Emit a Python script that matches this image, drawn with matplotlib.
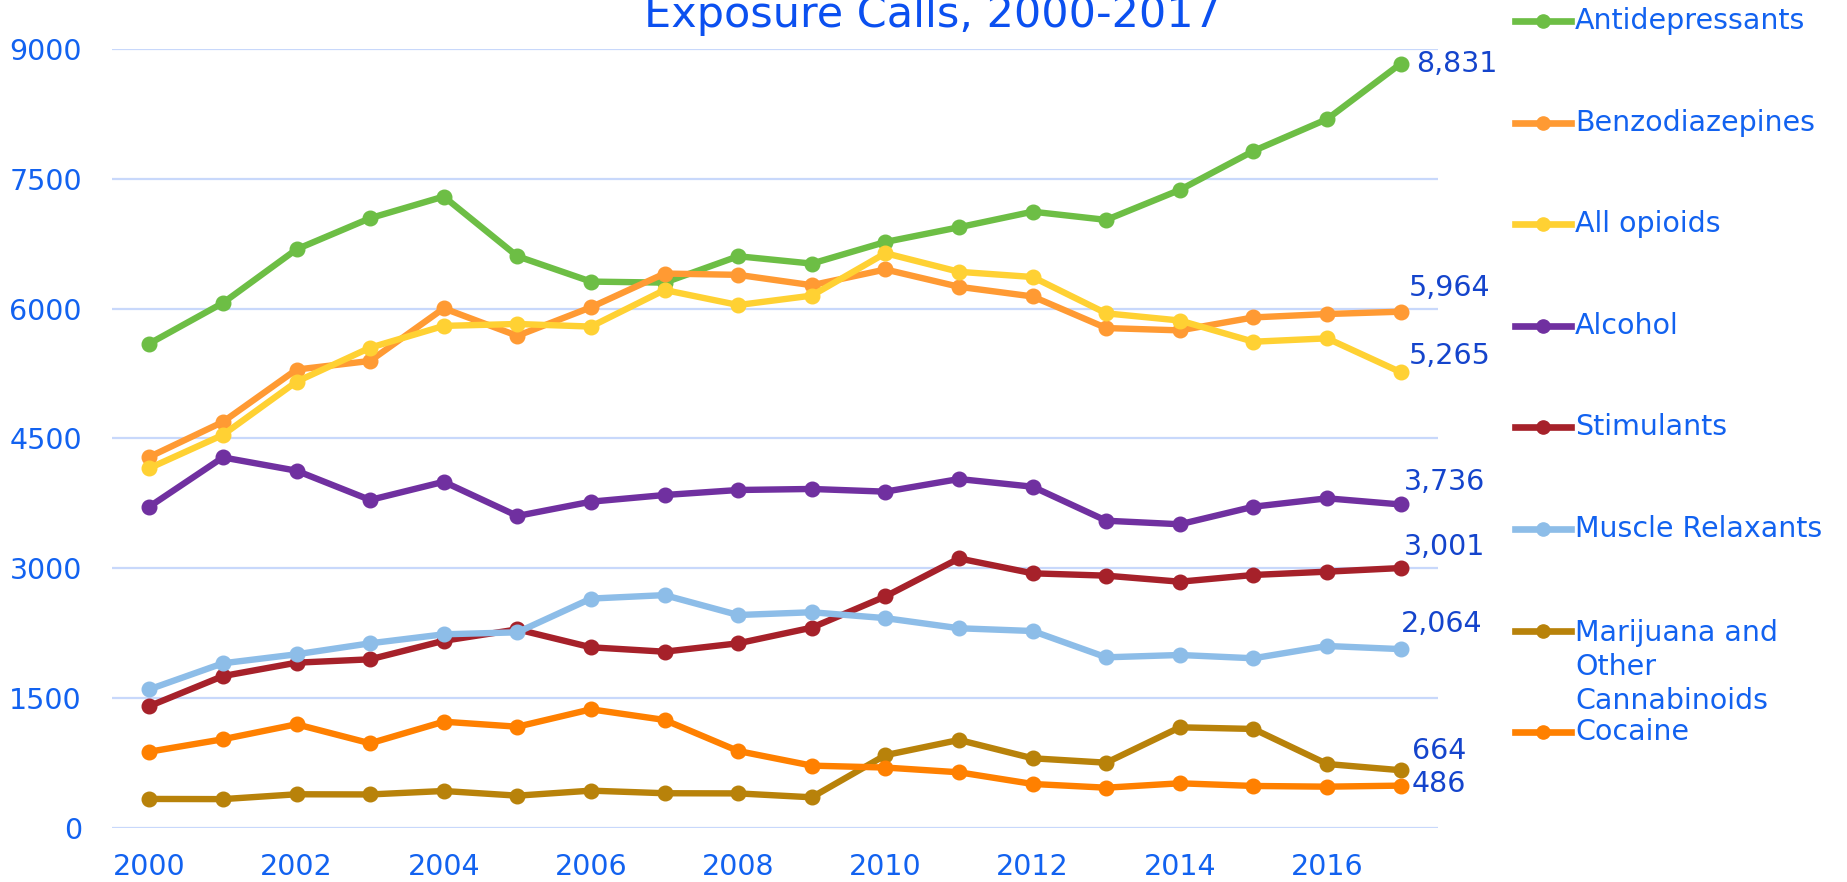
import numpy as np
import matplotlib
matplotlib.use("Agg")
import matplotlib.pyplot as plt
from matplotlib.lines import Line2D

plt.rcParams['font.family'] = ['DejaVu Sans']

years = list(range(2000, 2018))

series_names = ["Antidepressants", "Benzodiazepines", "All opioids", "Alcohol",
                "Stimulants", "Muscle Relaxants",
                "Marijuana and\nOther\nCannabinoids", "Cocaine"]
series_colors = ["#6dbe45", "#ff9a33", "#ffd133", "#7030a0",
                 "#a6212a", "#8dbde8", "#b8820a", "#ff8000"]

antidepressants = [5595, 6065, 6685, 7045, 7295, 6605, 6312, 6300, 6605, 6520,
                   6770, 6940, 7120, 7025, 7372, 7822, 8190, 8831]
benzodiazepines = [4285, 4690, 5295, 5395, 6003, 5685, 6015, 6405, 6390, 6270,
                   6452, 6252, 6140, 5775, 5748, 5898, 5937, 5964]
all_opioids = [4155, 4540, 5155, 5548, 5800, 5822, 5792, 6215, 6041, 6150,
               6640, 6425, 6365, 5945, 5862, 5617, 5656, 5265]
alcohol = [3710, 4280, 4126, 3788, 3998, 3603, 3768, 3845, 3903, 3915,
           3884, 4030, 3941, 3548, 3507, 3710, 3807, 3736]
stimulants = [1405, 1752, 1907, 1946, 2160, 2292, 2085, 2034, 2131, 2312,
              2673, 3112, 2940, 2913, 2843, 2921, 2959, 3001]
muscle_relaxants = [1599, 1900, 2004, 2131, 2235, 2258, 2648, 2688, 2458, 2490,
                    2422, 2305, 2273, 1969, 1996, 1958, 2100, 2064]
marijuana = [332, 330, 386, 384, 424, 370, 428, 398, 396, 351,
             838, 1014, 802, 751, 1160, 1141, 736, 664]
cocaine = [878, 1022, 1195, 975, 1225, 1167, 1368, 1245, 886, 717,
           695, 640, 505, 462, 513, 482, 474, 486]

series_values = [antidepressants, benzodiazepines, all_opioids, alcohol,
                 stimulants, muscle_relaxants, marijuana, cocaine]

# end-of-line labels: text and offset (points) from the 2017 point
end_labels = ["8,831", "5,964", "5,265", "3,736", "3,001", "2,064", "664", "486"]
label_offsets = [(11, 0), (6, 17), (6, 12), (2, 16), (2, 15), (0, 18), (8, 14), (8, 1)]

y_ticks = [0, 1500, 3000, 4500, 6000, 7500, 9000]
x_ticks = list(range(2000, 2017, 2))

tick_color = "#1262f0"
label_color = "#1444cc"
grid_color = "#c8d8fb"

fig = plt.figure(figsize=(18.47, 8.82), dpi=100)
ax = fig.add_axes([0.0609, 0.0616, 0.7174, 0.8828])

for vals, col in zip(series_values, series_colors):
    ax.plot(years, vals, color=col, lw=4.6, marker="o", markersize=10.5,
            solid_capstyle="round", solid_joinstyle="round", clip_on=False, zorder=3)

for vals, txt, off in zip(series_values, end_labels, label_offsets):
    ax.annotate(txt, (years[-1], vals[-1]), xytext=off, textcoords="offset points",
                ha="left", va="center", fontsize=20.5, color=label_color)

ax.set_xlim(1999.5, 2017.5)
ax.set_ylim(0, 9000)
ax.set_yticks(y_ticks)
ax.set_yticklabels([str(v) for v in y_ticks])
ax.set_xticks(x_ticks)
ax.set_xticklabels([str(v) for v in x_ticks])
ax.tick_params(axis="both", length=0, labelsize=20.5, labelcolor=tick_color)
ax.tick_params(axis="y", pad=22)
ax.tick_params(axis="x", pad=18)
ax.grid(axis="y", color=grid_color, lw=1.6, zorder=0)
ax.set_axisbelow(True)
for s in ax.spines.values():
    s.set_visible(False)

# title, cut off at top like the original
fig.text(0.505, 0.9694, "Exposure Calls, 2000-2017", ha="center", va="baseline",
         fontsize=31, color="#0b50f0")

# manual legend on the right
W, H = 1847.0, 882.0
spacing = 1.27
line_h = 20.5 * 100 / 72 * spacing / H
for i, (name, col) in enumerate(zip(series_names, series_colors)):
    yc = 1 - (21 + i * 101.6) / H
    fig.add_artist(Line2D([1515 / W, 1571 / W], [yc, yc], color=col, lw=4.8,
                          transform=fig.transFigure))
    fig.add_artist(Line2D([1543 / W], [yc], color=col, marker="o", markersize=9.5,
                          transform=fig.transFigure))
    n_lines = name.count("\n") + 1
    # keep first line centred on the handle, extra lines hang below
    fig.text(1575 / W, yc - (n_lines - 1) * line_h / 2, name, ha="left", va="center",
             fontsize=20.5, color=tick_color, linespacing=spacing)

fig.savefig("out.png", dpi=100)
